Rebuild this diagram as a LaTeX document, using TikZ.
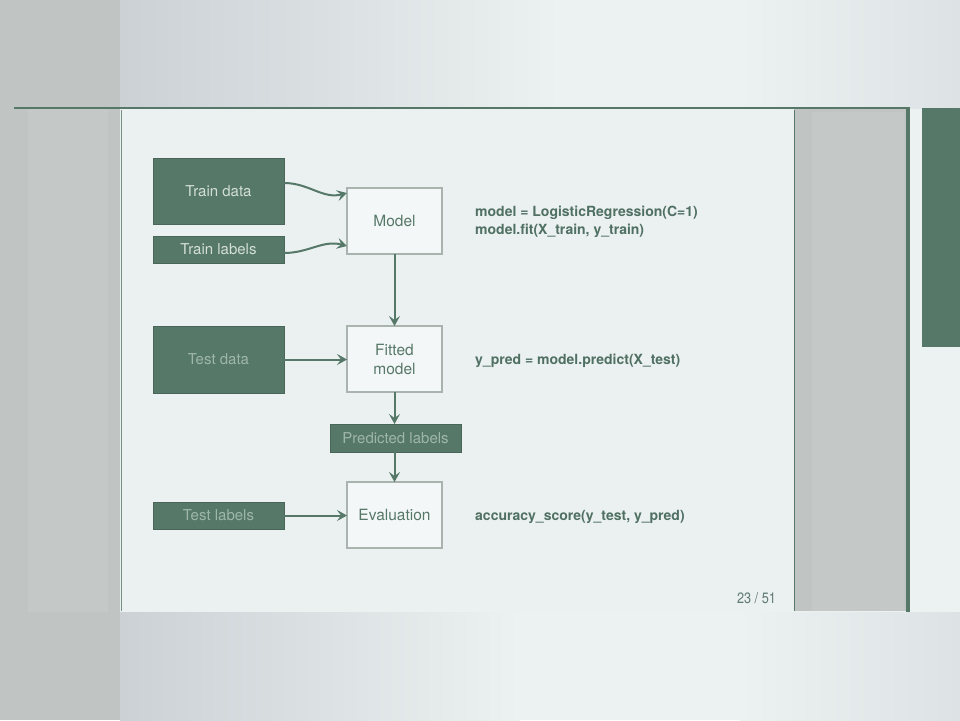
\documentclass[tikz,border=0pt]{standalone}
\usepackage{fontspec}
\setmainfont{TeX Gyre Heros}
\usetikzlibrary{arrows.meta,calc}

\definecolor{paper}{HTML}{ECF1F1}
\definecolor{slide}{HTML}{EBF0F0}
\definecolor{panel}{HTML}{C0C5C3}
\definecolor{panellight}{HTML}{C4C9C8}
\definecolor{haze}{HTML}{CBD1D5}
\definecolor{haze2}{HTML}{DDE3E5}
\definecolor{sage}{HTML}{567868}
\definecolor{sagetext}{HTML}{4F7062}
\definecolor{boxline}{HTML}{A9B4AF}
\definecolor{lighttext}{HTML}{D3DED9}
\definecolor{fainttext}{HTML}{9FB6AB}
\definecolor{pagenum}{HTML}{5F7A70}

\tikzset{
  databox/.style={fill=sage, draw=sage!85!black, line width=0.6pt,
    inner sep=0pt, outer sep=0pt, text=lighttext,
    font=\fontsize{15}{17}\selectfont},
  fadedbox/.style={databox, text=fainttext},
  stagebox/.style={fill=paper!60!white, draw=boxline, line width=1.4pt,
    inner sep=0pt, outer sep=0pt, minimum width=95, minimum height=66,
    text=sage, align=center, font=\fontsize{15.5}{19}\selectfont},
  codetext/.style={anchor=west, align=left, inner sep=0pt, text=sagetext,
    font=\bfseries\fontsize{14}{18}\selectfont},
  flow/.style={draw=sage, line width=2pt,
    -{Stealth[length=10pt,width=11pt,inset=4pt]}}
}

\begin{document}
\begin{tikzpicture}[x=1pt,y=-1pt]
\useasboundingbox (0,0) rectangle (960,720);

% backdrop
\fill[paper] (0,0) rectangle (960,720);
\shade[left color=haze, right color=paper] (120,0) rectangle (560,108);
\shade[left color=haze, right color=paper] (120,612) rectangle (520,720);
\shade[left color=paper, right color=haze2] (740,0) rectangle (960,108);
\shade[left color=paper, right color=haze2] (740,612) rectangle (960,720);
\fill[panel] (0,0) rectangle (120,720);
\fill[panellight] (28,108) rectangle (108,612);

% slide page
\fill[slide] (121,109) rectangle (794,611);
\draw[sage!70!panel, line width=1pt] (121,110) -- (121,611);
\fill[panel] (794,109) rectangle (906,611);
\fill[panellight] (812,112) rectangle (904,611);
\draw[sage, line width=1pt] (794,110) -- (794,611);
\fill[sage] (906,109) rectangle (910,612);
\draw[sage, line width=1.5pt] (14,108) -- (910,108);
\fill[sage] (922,108) rectangle (960,347);

% inputs
\node[databox, minimum width=131, minimum height=66] (traindata) at (218.5,191) {Train data};
\node[databox, minimum width=131, minimum height=27] (trainlabels) at (218.5,249.5) {Train labels};
\node[fadedbox, minimum width=131, minimum height=67] (testdata) at (218.5,359.5) {Test data};
\node[fadedbox, minimum width=131, minimum height=27] (testlabels) at (218.5,515.5) {Test labels};

% stages
\node[stagebox] (model) at (394.5,221) {Model};
\node[stagebox] (fitted) at (394.5,359) {Fitted\\model};
\node[fadedbox, minimum width=131, minimum height=28] (predicted) at (395.5,438) {Predicted labels};
\node[stagebox] (evaluation) at (394.5,515) {Evaluation};

% connectors
\draw[flow] ([yshift=8pt]traindata.east) to[out=0, in=195] ([yshift=28pt]model.west);
\draw[flow] ([yshift=-3.5pt]trainlabels.east) to[out=0, in=165] ([yshift=-25pt]model.west);
\draw[flow] (model.south) -- (fitted.north);
\draw[flow] (testdata.east) -- (testdata.east -| fitted.west);
\draw[flow] (fitted.south) -- (predicted.north -| fitted.south);
\draw[flow] (predicted.south -| evaluation.north) -- (evaluation.north);
\draw[flow] (testlabels.east) -- (testlabels.east -| evaluation.west);

% code
\node[codetext] (fitcode) at (475,222) {model = LogisticRegression(C=1)\\model.fit(X\_train, y\_train)};
\node[codetext] (predcode) at (475,361) {y\_pred = model.predict(X\_test)};
\node[codetext] (scorecode) at (475,517) {accuracy\_score(y\_test, y\_pred)};

% page number
\node[text=pagenum, font=\fontsize{15}{17}\selectfont, inner sep=0pt, xscale=0.85] (page) at (756.5,598) {23 / 51};
\end{tikzpicture}
\end{document}
